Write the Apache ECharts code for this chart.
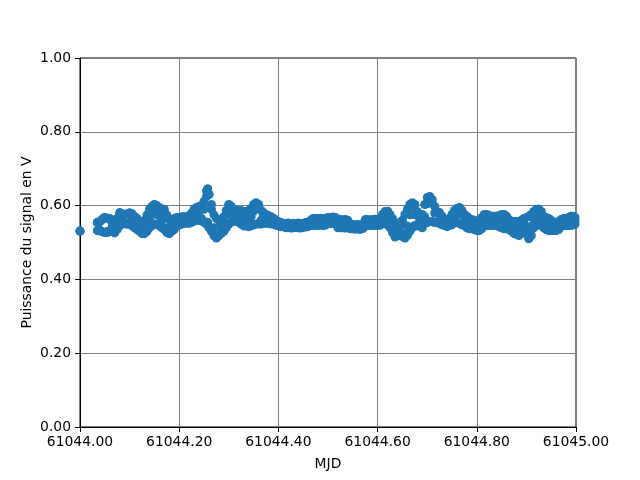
<!DOCTYPE html>
<html>
<head>
<meta charset="utf-8">
<script src="https://cdn.jsdelivr.net/npm/echarts@6/dist/echarts.min.js"></script>
<style>html,body{margin:0;padding:0;background:#fff;}#c{width:640px;height:480px;}</style>
</head>
<body>
<div id="c"></div>
<script>
var mjdBase = 61044;
// time offsets (days from MJD 61044)
var timeOffsets = [
0.000,
0.035,0.040,0.045,0.050,0.055,0.060,0.065,0.070,0.075,0.080,
0.085,0.090,0.095,0.100,0.105,0.110,0.115,0.120,0.125,0.130,
0.135,0.140,0.145,0.150,0.155,0.160,0.165,0.170,0.175,0.180,
0.185,0.190,0.195,0.200,0.205,0.210,0.215,0.220,0.225,0.230,
0.235,0.240,0.245,0.250,0.255,0.2575,0.260,0.265,0.270,0.275,
0.280,0.285,0.290,0.295,0.300,0.305,0.310,0.315,0.320,0.325,
0.330,0.335,0.340,0.345,0.350,0.355,0.360,0.365,0.370,0.375,
0.380,0.385,0.390,0.395,0.400,0.405,0.410,0.415,0.420,0.425,
0.430,0.435,0.440,0.445,0.450,0.455,0.460,0.465,0.470,0.475,
0.480,0.485,0.490,0.495,0.500,0.505,0.510,0.515,0.520,0.525,
0.530,0.535,0.540,0.545,0.550,0.555,0.560,0.565,0.570,0.575,
0.580,0.585,0.590,0.595,0.600,0.605,0.610,0.615,0.620,0.625,
0.630,0.635,0.640,0.645,0.650,0.655,0.660,0.665,0.670,0.675,
0.680,0.685,0.690,0.695,0.700,0.705,0.710,0.715,0.720,0.725,
0.730,0.735,0.740,0.745,0.750,0.755,0.760,0.765,0.770,0.775,
0.780,0.785,0.790,0.795,0.800,0.805,0.810,0.815,0.820,0.825,
0.830,0.835,0.840,0.845,0.850,0.855,0.860,0.865,0.870,0.875,
0.880,0.885,0.890,0.895,0.900,0.905,0.910,0.915,0.920,0.925,
0.930,0.935,0.940,0.945,0.950,0.955,0.960,0.965,0.970,0.975,
0.980,0.985,0.990,0.995,0.998
];
// signal power (V), samples through the middle of the band
var powerMid = [
0.531,
0.553,0.533,0.562,0.568,0.530,0.565,0.545,0.530,0.550,0.578,
0.560,0.575,0.550,0.580,0.560,0.570,0.545,0.555,0.535,0.528,
0.550,0.565,0.585,0.598,0.575,0.590,0.560,0.575,0.540,0.525,
0.545,0.535,0.555,0.548,0.560,0.555,0.565,0.558,0.568,0.560,
0.575,0.585,0.565,0.590,0.625,0.645,0.630,0.590,0.540,0.515,
0.540,0.525,0.555,0.575,0.600,0.585,0.570,0.585,0.565,0.580,
0.560,0.575,0.550,0.570,0.585,0.605,0.595,0.560,0.575,0.560,
0.570,0.555,0.565,0.550,0.555,0.545,0.552,0.544,0.550,0.542,
0.548,0.541,0.547,0.543,0.549,0.544,0.552,0.556,0.548,0.560,
0.552,0.562,0.550,0.558,0.552,0.562,0.555,0.565,0.552,0.545,
0.555,0.542,0.550,0.540,0.545,0.538,0.542,0.536,0.544,0.548,
0.556,0.546,0.554,0.548,0.558,0.552,0.565,0.575,0.585,0.570,
0.550,0.515,0.530,0.545,0.525,0.512,0.545,0.575,0.598,0.575,
0.545,0.560,0.540,0.570,0.605,0.622,0.610,0.580,0.555,0.575,
0.560,0.550,0.545,0.555,0.548,0.565,0.580,0.592,0.575,0.555,
0.565,0.545,0.555,0.540,0.550,0.535,0.550,0.565,0.555,0.570,
0.550,0.560,0.548,0.565,0.555,0.568,0.545,0.560,0.540,0.555,
0.535,0.545,0.530,0.552,0.535,0.510,0.545,0.565,0.580,0.590,
0.565,0.555,0.545,0.560,0.540,0.548,0.535,0.545,0.555,0.548,
0.562,0.550,0.560,0.553,0.560
];
// signal power (V), samples along the upper edge of the band
var powerHigh = [
0.531,
0.555,0.556,0.563,0.568,0.566,0.562,0.558,0.550,0.565,0.581,
0.578,0.575,0.578,0.580,0.578,0.570,0.565,0.556,0.554,0.560,
0.575,0.590,0.598,0.603,0.600,0.595,0.590,0.590,0.575,0.562,
0.560,0.565,0.568,0.568,0.570,0.570,0.570,0.573,0.580,0.590,
0.595,0.598,0.598,0.612,0.640,0.645,0.630,0.603,0.575,0.565,
0.560,0.558,0.570,0.587,0.603,0.598,0.590,0.587,0.587,0.587,
0.584,0.584,0.587,0.592,0.603,0.608,0.603,0.587,0.581,0.576,
0.573,0.570,0.565,0.560,0.557,0.554,0.551,0.551,0.553,0.550,
0.552,0.551,0.553,0.551,0.552,0.554,0.555,0.560,0.565,0.565,
0.565,0.566,0.565,0.566,0.568,0.568,0.569,0.568,0.562,0.562,
0.561,0.562,0.560,0.549,0.549,0.548,0.549,0.548,0.549,0.562,
0.562,0.561,0.562,0.563,0.562,0.562,0.576,0.584,0.584,0.576,
0.565,0.554,0.549,0.554,0.560,0.576,0.590,0.603,0.608,0.603,
0.584,0.576,0.576,0.603,0.622,0.625,0.617,0.598,0.584,0.581,
0.571,0.557,0.557,0.565,0.576,0.587,0.592,0.595,0.587,0.576,
0.571,0.565,0.562,0.560,0.557,0.560,0.568,0.576,0.576,0.573,
0.571,0.571,0.571,0.573,0.576,0.576,0.571,0.562,0.557,0.557,
0.557,0.557,0.560,0.565,0.568,0.571,0.576,0.584,0.590,0.590,
0.584,0.571,0.568,0.565,0.560,0.554,0.554,0.557,0.562,0.565,
0.565,0.568,0.571,0.571,0.568
];
// signal power (V), samples along the lower edge of the band
var powerLow = [
0.531,
0.532,0.532,0.529,0.527,0.527,0.531,0.529,0.526,0.535,0.545,
0.550,0.555,0.550,0.550,0.545,0.540,0.535,0.530,0.524,0.524,
0.530,0.540,0.545,0.550,0.550,0.545,0.540,0.535,0.527,0.524,
0.530,0.540,0.545,0.547,0.550,0.552,0.552,0.552,0.555,0.558,
0.560,0.560,0.558,0.555,0.550,0.555,0.540,0.530,0.518,0.512,
0.518,0.526,0.530,0.540,0.550,0.555,0.558,0.558,0.555,0.550,
0.545,0.545,0.543,0.545,0.548,0.550,0.550,0.550,0.552,0.552,
0.552,0.550,0.550,0.547,0.545,0.543,0.543,0.540,0.541,0.539,
0.540,0.541,0.540,0.539,0.541,0.542,0.543,0.546,0.546,0.546,
0.546,0.547,0.546,0.547,0.551,0.551,0.552,0.551,0.540,0.540,
0.540,0.539,0.541,0.537,0.537,0.536,0.537,0.536,0.538,0.546,
0.546,0.546,0.547,0.546,0.546,0.547,0.551,0.551,0.548,0.540,
0.527,0.519,0.519,0.524,0.516,0.513,0.519,0.530,0.540,0.546,
0.546,0.546,0.546,0.551,0.554,0.557,0.557,0.554,0.554,0.551,
0.548,0.546,0.543,0.546,0.551,0.554,0.554,0.551,0.548,0.546,
0.540,0.537,0.537,0.535,0.532,0.532,0.537,0.546,0.546,0.546,
0.546,0.546,0.546,0.543,0.540,0.537,0.537,0.535,0.530,0.524,
0.522,0.519,0.524,0.530,0.524,0.511,0.519,0.540,0.546,0.548,
0.546,0.540,0.535,0.532,0.532,0.532,0.532,0.535,0.543,0.546,
0.546,0.546,0.546,0.548,0.550
];
var xTickLabels = ['61044.00','61044.20','61044.40','61044.60','61044.80','61045.00'];
var yTickLabels = ['0.00','0.20','0.40','0.60','0.80','1.00'];

var points = [];
[powerHigh, powerLow, powerMid].forEach(function (arr) {
  timeOffsets.forEach(function (t, i) { points.push([mjdBase + t, arr[i]]); });
});
var font = 'DejaVu Sans';
var chart = echarts.init(document.getElementById('c'), null, {renderer: 'canvas'});
chart.setOption({
  animation: false,
  backgroundColor: '#fff',
  grid: {left: 80, right: 64, top: 58, bottom: 53, show: true, borderColor: '#000', borderWidth: 1, backgroundColor: 'transparent'},
  xAxis: {
    type: 'value', min: 61044, max: 61045, interval: 0.2,
    name: 'MJD', nameLocation: 'middle', nameGap: 30, nameMoveOverlap: false,
    nameTextStyle: {fontFamily: font, fontSize: 13.9, color: '#000'},
    axisLine: {show: true, onZero: false, lineStyle: {color: '#000', width: 1}},
    axisTick: {show: true, inside: false, length: 5, lineStyle: {color: '#000'}},
    axisLabel: {margin: 8, fontFamily: font, fontSize: 13.9, color: '#000',
      formatter: function (v) { var i = Math.round((v - 61044) / 0.2); return xTickLabels[i] || v.toFixed(2); }},
    splitLine: {show: true, lineStyle: {color: '#808080', width: 1}}
  },
  yAxis: {
    type: 'value', min: 0, max: 1, interval: 0.2,
    name: 'Puissance du signal en V', nameLocation: 'middle', nameGap: 46, nameMoveOverlap: false,
    nameTextStyle: {fontFamily: font, fontSize: 13.9, color: '#000'},
    axisLine: {show: true, lineStyle: {color: '#000', width: 1}},
    axisTick: {show: true, inside: false, length: 5, lineStyle: {color: '#000'}},
    axisLabel: {margin: 9, fontFamily: font, fontSize: 13.9, color: '#000',
      formatter: function (v) { var i = Math.round(v / 0.2); return yTickLabels[i] || v.toFixed(2); }},
    splitLine: {show: true, lineStyle: {color: '#808080', width: 1}}
  },
  series: [{
    type: 'scatter', data: points, symbol: 'circle', symbolSize: 9, clip: true,
    itemStyle: {color: '#1f77b4', opacity: 1}
  }]
});
</script>
</body>
</html>
